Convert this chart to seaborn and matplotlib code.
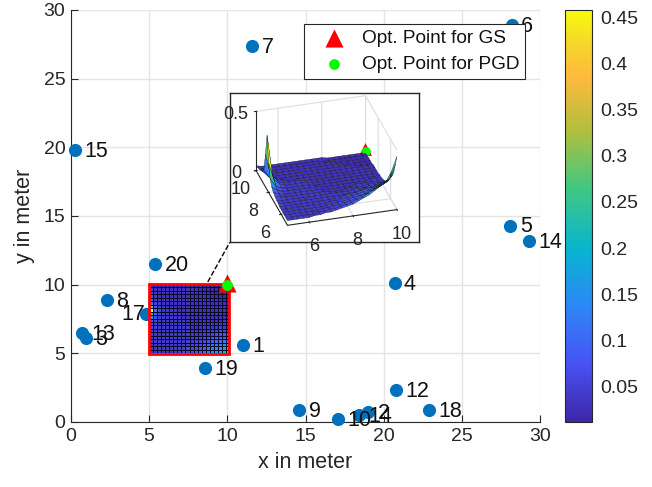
import numpy as np
import pandas as pd
import matplotlib
matplotlib.use('Agg')
import matplotlib.pyplot as plt
from matplotlib.colors import LinearSegmentedColormap, Normalize
from matplotlib.cm import ScalarMappable
from matplotlib.patches import Rectangle
import seaborn as sns

sns.set_style("ticks")
plt.rcParams['font.family'] = ['Liberation Sans', 'DejaVu Sans']

# user positions
user_labels = ['1', '2', '3', '4', '5', '6', '7', '8', '9', '10', '14', '12', '13', '14', '15', '17', '18', '19', '20']
user_x = [11.0, 19.0, 0.96, 20.7, 28.1, 28.2, 11.6, 2.3, 14.6, 17.1, 18.4, 20.8, 0.7, 29.3, 0.25, 4.8, 22.9, 8.6, 5.4]
user_y = [5.6, 0.7, 6.1, 10.1, 14.3, 28.9, 27.4, 8.9, 0.9, 0.2, 0.5, 2.3, 6.5, 13.15, 19.8, 7.9, 0.9, 3.9, 11.5]

opt_gs = (10.0, 10.1)
opt_pgd = (10.0, 10.0)

# objective over x 5..10 (columns), y 10..5 (rows), in hundredths
surface_x = [5 + i * 0.25 for i in range(21)]
surface_y = [10 - i * 0.25 for i in range(21)]
surface_vals = [
    [4, 3, 3, 3, 3, 3, 3, 3, 3, 3, 3, 3, 3, 2, 2, 2, 2, 2, 2, 2, 1],
    [5, 3, 3, 3, 3, 3, 3, 3, 3, 3, 3, 3, 2, 2, 2, 2, 2, 2, 2, 2, 2],
    [6, 4, 3, 3, 3, 3, 3, 3, 3, 3, 3, 3, 3, 3, 2, 2, 2, 2, 2, 2, 2],
    [7, 4, 3, 3, 3, 3, 3, 3, 3, 3, 3, 3, 3, 3, 3, 2, 2, 2, 2, 2, 2],
    [9, 4, 3, 3, 3, 3, 3, 3, 3, 3, 3, 3, 3, 3, 3, 3, 3, 2, 2, 2, 2],
    [12, 5, 4, 3, 3, 3, 3, 3, 3, 3, 3, 3, 3, 3, 3, 3, 3, 3, 3, 3, 3],
    [28, 8, 5, 4, 3, 3, 3, 3, 3, 3, 3, 3, 3, 3, 3, 3, 3, 3, 3, 3, 3],
    [46, 11, 6, 4, 4, 4, 4, 3, 3, 3, 3, 3, 3, 3, 3, 3, 3, 3, 3, 3, 3],
    [25, 10, 6, 4, 4, 4, 4, 4, 3, 3, 3, 3, 3, 3, 3, 3, 3, 3, 3, 3, 3],
    [14, 7, 5, 4, 4, 4, 4, 4, 3, 3, 3, 3, 3, 3, 3, 3, 3, 3, 3, 3, 4],
    [9, 6, 4, 4, 4, 4, 4, 4, 4, 3, 3, 3, 3, 3, 3, 3, 3, 3, 4, 4, 4],
    [7, 5, 4, 4, 4, 4, 4, 4, 4, 3, 3, 3, 3, 3, 3, 4, 4, 4, 4, 4, 5],
    [6, 5, 4, 4, 4, 4, 4, 4, 4, 4, 3, 3, 3, 4, 4, 4, 4, 5, 5, 5, 6],
    [5, 4, 4, 4, 4, 4, 4, 4, 4, 4, 4, 4, 4, 4, 5, 5, 5, 6, 6, 7, 8],
    [5, 4, 4, 4, 4, 4, 4, 4, 4, 4, 4, 4, 4, 5, 5, 6, 7, 7, 8, 9, 10],
    [4, 4, 4, 4, 4, 4, 4, 4, 4, 4, 5, 5, 6, 6, 7, 8, 9, 9, 10, 12, 14],
    [4, 4, 4, 4, 4, 4, 4, 4, 4, 5, 5, 6, 6, 7, 8, 9, 10, 11, 13, 15, 18],
    [4, 4, 4, 4, 4, 4, 4, 4, 5, 5, 6, 6, 7, 8, 9, 10, 12, 13, 15, 17, 22],
    [4, 4, 4, 4, 4, 4, 4, 5, 5, 6, 6, 7, 8, 9, 11, 12, 14, 16, 18, 21, 27],
    [4, 4, 4, 4, 4, 4, 5, 5, 6, 6, 7, 8, 9, 11, 12, 15, 17, 19, 22, 25, 36],
    [4, 4, 4, 4, 4, 5, 5, 6, 6, 7, 8, 9, 10, 12, 14, 16, 19, 22, 25, 33, 45],
]
cbar_ticks = [0.05, 0.1, 0.15, 0.2, 0.25, 0.3, 0.35, 0.4, 0.45]
cbar_labels = ['0.05', '0.1', '0.15', '0.2', '0.25', '0.3', '0.35', '0.4', '0.45']

W, H = 652, 487


def px_rect(left, top, right, bottom):
    return [left / W, 1 - bottom / H, (right - left) / W, (bottom - top) / H]


parula = LinearSegmentedColormap.from_list('parula', [
    (0.0, '#3E26A8'), (0.14, '#4852F4'), (0.28, '#2D87F7'), (0.42, '#08B5D0'),
    (0.57, '#42C780'), (0.71, '#B3BF3D'), (0.84, '#FFBA3D'), (0.92, '#F5D629'),
    (1.0, '#F9FB0E')])
norm = Normalize(vmin=0.012, vmax=0.4576)
grid = np.array(surface_vals) / 100.0

fig = plt.figure(figsize=(W / 100, H / 100), dpi=100)

# main axes
ax = fig.add_axes(px_rect(71, 10, 540, 422), zorder=1)
users = pd.DataFrame({'x': user_x, 'y': user_y})
sns.scatterplot(data=users, x='x', y='y', color='#0072BD', s=90, linewidth=0,
                clip_on=False, zorder=4, ax=ax)
for lab, ux, uy in zip(user_labels, user_x, user_y):
    tx = ux + 0.6
    if lab == '17':
        tx = 3.25
    ax.text(tx, uy - 0.1, lab, fontsize=15.5, va='center', color='#111111', zorder=5)
ax.set_xlim(0, 30)
ax.set_ylim(0, 30)
ax.set_xticks(range(0, 31, 5))
ax.set_yticks(range(0, 31, 5))
ax.grid(True, color='#e4e4e4', linewidth=1)
ax.set_axisbelow(True)
ax.tick_params(direction='in', length=5, width=0.8, labelsize=14, colors='#262626', pad=4)
ax.set_xlabel('x in meter', fontsize=15.5, color='#262626', labelpad=5)
ax.set_ylabel('y in meter', fontsize=15.5, color='#262626', labelpad=6)
sns.despine(ax=ax)

# zoomed area drawn as a heat map
hm_ax = fig.add_axes(px_rect(149, 284, 230, 353), zorder=2)
sns.heatmap(grid[:-1, :-1], ax=hm_ax, cmap=parula, norm=norm, cbar=False,
            linewidths=0.5, linecolor='#0a0a28', xticklabels=False, yticklabels=False)

# overlay for the outline, dashed link and optimum points
top = fig.add_axes(ax.get_position(), zorder=3)
top.set_xlim(0, 30)
top.set_ylim(0, 30)
top.patch.set_alpha(0)
top.axis('off')
top.add_patch(Rectangle((4.97, 4.98), 5.16, 5.07, fill=False, edgecolor='#ff0000', linewidth=2, clip_on=False))
top.plot([8.75, 10.16], [10.2, 13.08], color='black', linestyle='--', linewidth=1, clip_on=False)
sns.scatterplot(x=[opt_gs[0]], y=[opt_gs[1]], marker='^', color='#ff0000', s=170, linewidth=0,
                label='Opt. Point for GS', clip_on=False, ax=top)
sns.scatterplot(x=[opt_pgd[0]], y=[opt_pgd[1]], marker='o', color='#00ff00', s=60, linewidth=0,
                label='Opt. Point for PGD', clip_on=False, ax=top)
top.axis('off')
leg = top.legend(loc='upper left', bbox_to_anchor=(304 / W, 1 - 24 / H), bbox_transform=fig.transFigure,
                 borderaxespad=0, fontsize=13.7, fancybox=False, framealpha=1, edgecolor='#262626',
                 handletextpad=0.15, borderpad=0.28, labelspacing=0.5, handlelength=2.62, labelcolor='#111111')
leg.get_frame().set_linewidth(0.8)

# colour bar
cax = fig.add_axes(px_rect(565, 10, 592, 422), zorder=1)
cb = fig.colorbar(ScalarMappable(norm=norm, cmap=parula), cax=cax)
cb.set_ticks(cbar_ticks)
cb.set_ticklabels(cbar_labels)
cb.ax.tick_params(direction='in', length=4, width=0.8, labelsize=14, colors='#262626', pad=6)
cb.outline.set_linewidth(0.8)

# inset frame and 3D view
frame = fig.add_axes(px_rect(230, 93, 419, 242), zorder=4)
frame.set_xticks([])
frame.set_yticks([])
for sp in frame.spines.values():
    sp.set_linewidth(1)
ax3 = fig.add_axes(px_rect(230, 88, 419, 237), projection='3d', zorder=5)
ax3.patch.set_alpha(0)
ax3.set_proj_type('ortho')
ax3.view_init(elev=30, azim=-106)
X, Y = np.meshgrid(surface_x, surface_y)
ax3.plot_surface(X, Y, grid, facecolors=parula(norm(grid)), rstride=1, cstride=1,
                 linewidth=0.25, edgecolor='#111111', shade=False)
ax3.scatter([opt_gs[0]], [opt_gs[1]], [0.04], marker='^', color='#ff0000', s=85, depthshade=False, linewidth=0)
ax3.scatter([opt_pgd[0]], [opt_pgd[1]], [0.03], marker='o', color='#00ff00', s=40, depthshade=False, linewidth=0)
ax3.set_xlim(5, 10)
ax3.set_ylim(5, 10)
ax3.set_zlim(0, 0.5)
ax3.set_xticks([6, 8, 10])
ax3.set_yticks([6, 8, 10])
ax3.set_zticks([0, 0.5])
ax3.set_zticklabels(['0', '0.5'])
ax3.tick_params(labelsize=13, colors='#262626', pad=0)
for axis in (ax3.xaxis, ax3.yaxis, ax3.zaxis):
    axis.set_pane_color((1, 1, 1, 0))
    axis.pane.set_edgecolor('#cccccc')
    axis._axinfo['grid'].update(color='#dddddd', linewidth=0.8)
ax3.set_box_aspect((1, 1, 0.6), zoom=1.14)

fig.savefig('out.png', dpi=100)
